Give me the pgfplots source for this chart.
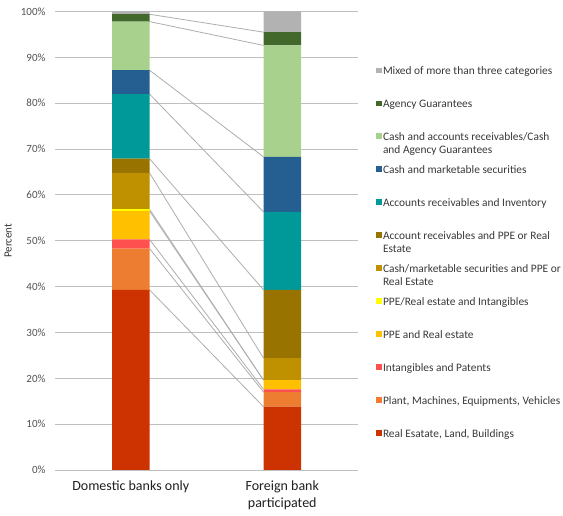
\documentclass[border=0pt]{standalone}
\usepackage{pgfplots}
\pgfplotsset{compat=1.18}
\usepackage{pgfplotstable}
\usepackage{fontspec}
\setmainfont{Carlito}

\definecolor{cRE}{RGB}{204,51,0}
\definecolor{cPlant}{RGB}{237,125,49}
\definecolor{cIntang}{RGB}{255,80,80}
\definecolor{cPPE}{RGB}{255,192,0}
\definecolor{cPPEInt}{RGB}{255,255,0}
\definecolor{cCashPPE}{RGB}{191,144,0}
\definecolor{cARPPE}{RGB}{153,115,0}
\definecolor{cARInv}{RGB}{0,153,153}
\definecolor{cCashMkt}{RGB}{37,94,145}
\definecolor{cCashAR}{RGB}{169,209,142}
\definecolor{cAgency}{RGB}{67,104,43}
\definecolor{cMixed}{RGB}{178,178,178}

% share of each collateral type (percent), one row per bank group
\pgfplotstableread{
pos re   plant intang ppe ppeint cashppe arppe arinv cashmkt cashar agency mixed
0   39.3 9.0   2.0    6.2 0.4    7.9     3.1   14.1  5.2     10.6   1.6    0.6
1   13.8 3.2   0.6    2.0 0.0    4.8     14.9  17.0  12.0    24.3   2.9    4.5
}\shares

% legend text that wraps onto a second line without taking extra row height
\newcommand\twoline[2]{\raisebox{0pt}[\height][\dp\strutbox]{\parbox[t]{190pt}{\strut #1\\#2}}}

% connector between the two bars at the top of a stacked segment
\newcommand\sline[1]{\addplot[black!32, line width=0.8pt, forget plot]
  table[x expr={0.1238+0.7524*\thisrow{pos}}, y expr={#1}] {\shares};}

\begin{document}
\begin{tikzpicture}
\begin{axis}[
  name=ax,
  scale only axis, width=303pt, height=458.5pt,
  xmin=-0.5, xmax=1.5, ymin=0, ymax=100,
  axis line style={draw=none},
  tick style={draw=none},
  ytick={0,10,...,100},
  /pgf/number format/assume math mode=true,
  yticklabel={\pgfmathprintnumber{\tick}\%},
  yticklabel style={font=\fontsize{11}{13}\selectfont, text=black!68, xshift=-6pt},
  ymajorgrids,
  grid style={black!25, line width=0.8pt},
  xtick={0,1},
  xticklabels={Domestic banks only, {Foreign bank\\participated}},
  xticklabel style={font=\fontsize{14}{17}\selectfont, text=black!88, align=center, yshift=-7pt},
  every axis y label/.style={at={(axis description cs:-0.155,0.5)}, rotate=90, anchor=center},
  ylabel={Percent},
  ylabel style={font=\fontsize{11}{13}\selectfont, text=black!80},
]
\sline{\thisrow{re}}
\sline{\thisrow{re}+\thisrow{plant}}
\sline{\thisrow{re}+\thisrow{plant}+\thisrow{intang}}
\sline{\thisrow{re}+\thisrow{plant}+\thisrow{intang}+\thisrow{ppe}}
\sline{\thisrow{re}+\thisrow{plant}+\thisrow{intang}+\thisrow{ppe}+\thisrow{ppeint}}
\sline{\thisrow{re}+\thisrow{plant}+\thisrow{intang}+\thisrow{ppe}+\thisrow{ppeint}+\thisrow{cashppe}}
\sline{\thisrow{re}+\thisrow{plant}+\thisrow{intang}+\thisrow{ppe}+\thisrow{ppeint}+\thisrow{cashppe}+\thisrow{arppe}}
\sline{\thisrow{re}+\thisrow{plant}+\thisrow{intang}+\thisrow{ppe}+\thisrow{ppeint}+\thisrow{cashppe}+\thisrow{arppe}+\thisrow{arinv}}
\sline{\thisrow{re}+\thisrow{plant}+\thisrow{intang}+\thisrow{ppe}+\thisrow{ppeint}+\thisrow{cashppe}+\thisrow{arppe}+\thisrow{arinv}+\thisrow{cashmkt}}
\sline{\thisrow{re}+\thisrow{plant}+\thisrow{intang}+\thisrow{ppe}+\thisrow{ppeint}+\thisrow{cashppe}+\thisrow{arppe}+\thisrow{arinv}+\thisrow{cashmkt}+\thisrow{cashar}}
\sline{\thisrow{re}+\thisrow{plant}+\thisrow{intang}+\thisrow{ppe}+\thisrow{ppeint}+\thisrow{cashppe}+\thisrow{arppe}+\thisrow{arinv}+\thisrow{cashmkt}+\thisrow{cashar}+\thisrow{agency}}
\end{axis}

\begin{axis}[
  at={(ax.south west)}, anchor=south west,
  scale only axis, width=303pt, height=458.5pt,
  xmin=-0.5, xmax=1.5, ymin=0, ymax=100,
  hide axis,
  ybar stacked, bar width=37.5pt,
  every axis plot/.append style={draw=none},
  reverse legend,
  legend cell align=left,
  legend image code/.code={\fill[#1] (0pt,-2.8pt) rectangle (5.6pt,2.8pt);},
  legend style={
    at={(axis description cs:1.0594,0.884)}, anchor=north west,
    draw=none, fill=none, inner sep=0pt,
    font=\fontsize{11.4}{13.4}\selectfont, text=black!78,
    row sep=22.1pt,
    nodes={inner xsep=1.2pt, inner ysep=0pt},
  },
]
\addplot[fill=cRE] table[x=pos, y=re] {\shares};
\addlegendentry{\strut Real Esatate, Land, Buildings}
\addplot[fill=cPlant] table[x=pos, y=plant] {\shares};
\addlegendentry{\strut Plant, Machines, Equipments, Vehicles}
\addplot[fill=cIntang] table[x=pos, y=intang] {\shares};
\addlegendentry{\strut Intangibles and Patents}
\addplot[fill=cPPE] table[x=pos, y=ppe] {\shares};
\addlegendentry{\strut PPE and Real estate}
\addplot[fill=cPPEInt] table[x=pos, y=ppeint] {\shares};
\addlegendentry{\strut PPE/Real estate and Intangibles}
\addplot[fill=cCashPPE] table[x=pos, y=cashppe] {\shares};
\addlegendentry{\twoline{Cash/marketable securities and PPE or}{Real Estate}}
\addplot[fill=cARPPE] table[x=pos, y=arppe] {\shares};
\addlegendentry{\twoline{Account receivables and PPE or Real}{Estate}}
\addplot[fill=cARInv] table[x=pos, y=arinv] {\shares};
\addlegendentry{\strut Accounts receivables and Inventory}
\addplot[fill=cCashMkt] table[x=pos, y=cashmkt] {\shares};
\addlegendentry{\strut Cash and marketable securities}
\addplot[fill=cCashAR] table[x=pos, y=cashar] {\shares};
\addlegendentry{\twoline{Cash and accounts receivables/Cash}{and Agency Guarantees}}
\addplot[fill=cAgency] table[x=pos, y=agency] {\shares};
\addlegendentry{\strut Agency Guarantees}
\addplot[fill=cMixed] table[x=pos, y=mixed] {\shares};
\addlegendentry{\strut Mixed of more than three categories}
\end{axis}

\pgfresetboundingbox
\path ([shift={(-55pt,-46pt)}]ax.south west) rectangle ([shift={(205pt,11.5pt)}]ax.north east);
\end{tikzpicture}
\end{document}
